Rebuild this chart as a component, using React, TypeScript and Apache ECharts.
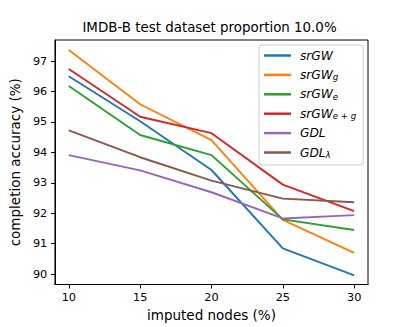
import React, { useEffect, useRef } from "react";
import * as echarts from "echarts";

const imputed = [10, 15, 20, 25, 30];
const srGW = [96.5, 95.02, 93.42, 90.85, 89.96];
const srGWg = [97.36, 95.58, 94.4, 91.78, 90.7];
const srGWe = [96.18, 94.57, 93.91, 91.8, 91.45];
const srGWeg = [96.74, 95.17, 94.63, 92.94, 92.07];
const GDL = [93.91, 93.41, 92.69, 91.83, 91.94];
const GDLl = [94.72, 93.84, 93.07, 92.48, 92.36];
const yTicks = [90, 91, 92, 93, 94, 95, 96, 97];
const xTicks = [10, 15, 20, 25, 30];

const seriesDefs = [
  { name: "srGW", label: "{m|srGW}", data: srGW, color: "#1f77b4" },
  { name: "srGWg", label: "{m|srGW}{s|g}", data: srGWg, color: "#ff7f0e" },
  { name: "srGWe", label: "{m|srGW}{s|e}", data: srGWe, color: "#2ca02c" },
  { name: "srGWeg", label: "{m|srGW}{s|e + g}", data: srGWeg, color: "#d62728" },
  { name: "GDL", label: "{m|GDL}", data: GDL, color: "#9467bd" },
  { name: "GDLl", label: "{m|GDL}{s|λ}", data: GDLl, color: "#8c564b" },
];

const FONT = "DejaVu Sans";

export default function App() {
  const ref = useRef<HTMLDivElement>(null);
  useEffect(() => {
    document.body.style.margin = "0";
    document.body.style.overflow = "hidden";
    const chart = echarts.init(ref.current!, null, { renderer: "svg" });
    const labelMap: Record<string, string> = {};
    seriesDefs.forEach((s) => (labelMap[s.name] = s.label));
    chart.setOption({
      animation: false,
      textStyle: { fontFamily: FONT },
      title: {
        text: "IMDB-B test dataset proportion 10.0%",
        left: 209.5,
        top: 21,
        padding: 0,
        textAlign: "center",
        textStyle: { fontFamily: FONT, fontSize: 13.4, fontWeight: "normal", color: "#000" },
      },
      grid: {
        left: 51,
        right: 41,
        top: 40,
        bottom: 37.7,
        show: true,
        borderColor: "#000",
        borderWidth: 1,
        backgroundColor: "transparent",
      },
      legend: {
        orient: "vertical",
        left: 259,
        top: 45,
        padding: [3, 7, 5, 5],
        itemGap: 4.4,
        itemWidth: 27,
        itemHeight: 2.5,
        icon: "rect",
        backgroundColor: "rgba(255,255,255,0.8)",
        borderColor: "#cccccc",
        borderWidth: 1,
        borderRadius: 3,
        data: seriesDefs.map((s) => s.name),
        formatter: (name: string) => labelMap[name],
        textStyle: {
          padding: [0, 0, 0, 4],
          lineHeight: 15,
          rich: {
            m: { fontFamily: FONT, fontSize: 12.2, fontStyle: "italic", color: "#000", lineHeight: 15 },
            s: {
              fontFamily: FONT,
              fontSize: 8.6,
              fontStyle: "italic",
              color: "#000",
              lineHeight: 15,
              padding: [5, 0, 0, 0],
            },
          },
        },
      },
      xAxis: {
        type: "value",
        min: 9.03,
        max: 30.97,
        name: "imputed nodes (%)",
        nameLocation: "middle",
        nameGap: 23.5,
        nameTextStyle: { fontFamily: FONT, fontSize: 13.5, color: "#000" },
        axisLine: { show: true, lineStyle: { color: "#000", width: 1 } },
        axisTick: { show: true, length: 4, inside: false, customValues: xTicks, lineStyle: { color: "#000" } },
        axisLabel: { customValues: xTicks, fontFamily: FONT, fontSize: 11.3, color: "#000", margin: 7 },
        splitLine: { show: false },
      },
      yAxis: {
        type: "value",
        min: 89.66,
        max: 97.69,
        name: "completion accuracy (%)",
        nameLocation: "middle",
        nameGap: 25.7,
        nameTextStyle: { fontFamily: FONT, fontSize: 13.5, color: "#000" },
        axisLine: { show: true, lineStyle: { color: "#000", width: 1 } },
        axisTick: { show: true, length: 4, inside: false, customValues: yTicks, lineStyle: { color: "#000" } },
        axisLabel: { customValues: yTicks, fontFamily: FONT, fontSize: 11.3, color: "#000", margin: 7.7 },
        splitLine: { show: false },
      },
      series: seriesDefs.map((s) => ({
        name: s.name,
        type: "line",
        symbol: "none",
        color: s.color,
        lineStyle: { width: 1.9, color: s.color },
        data: imputed.map((x, i) => [x, s.data[i]]),
      })),
    });
    return () => chart.dispose();
  }, []);
  return <div ref={ref} style={{ width: 409, height: 327 }} />;
}
